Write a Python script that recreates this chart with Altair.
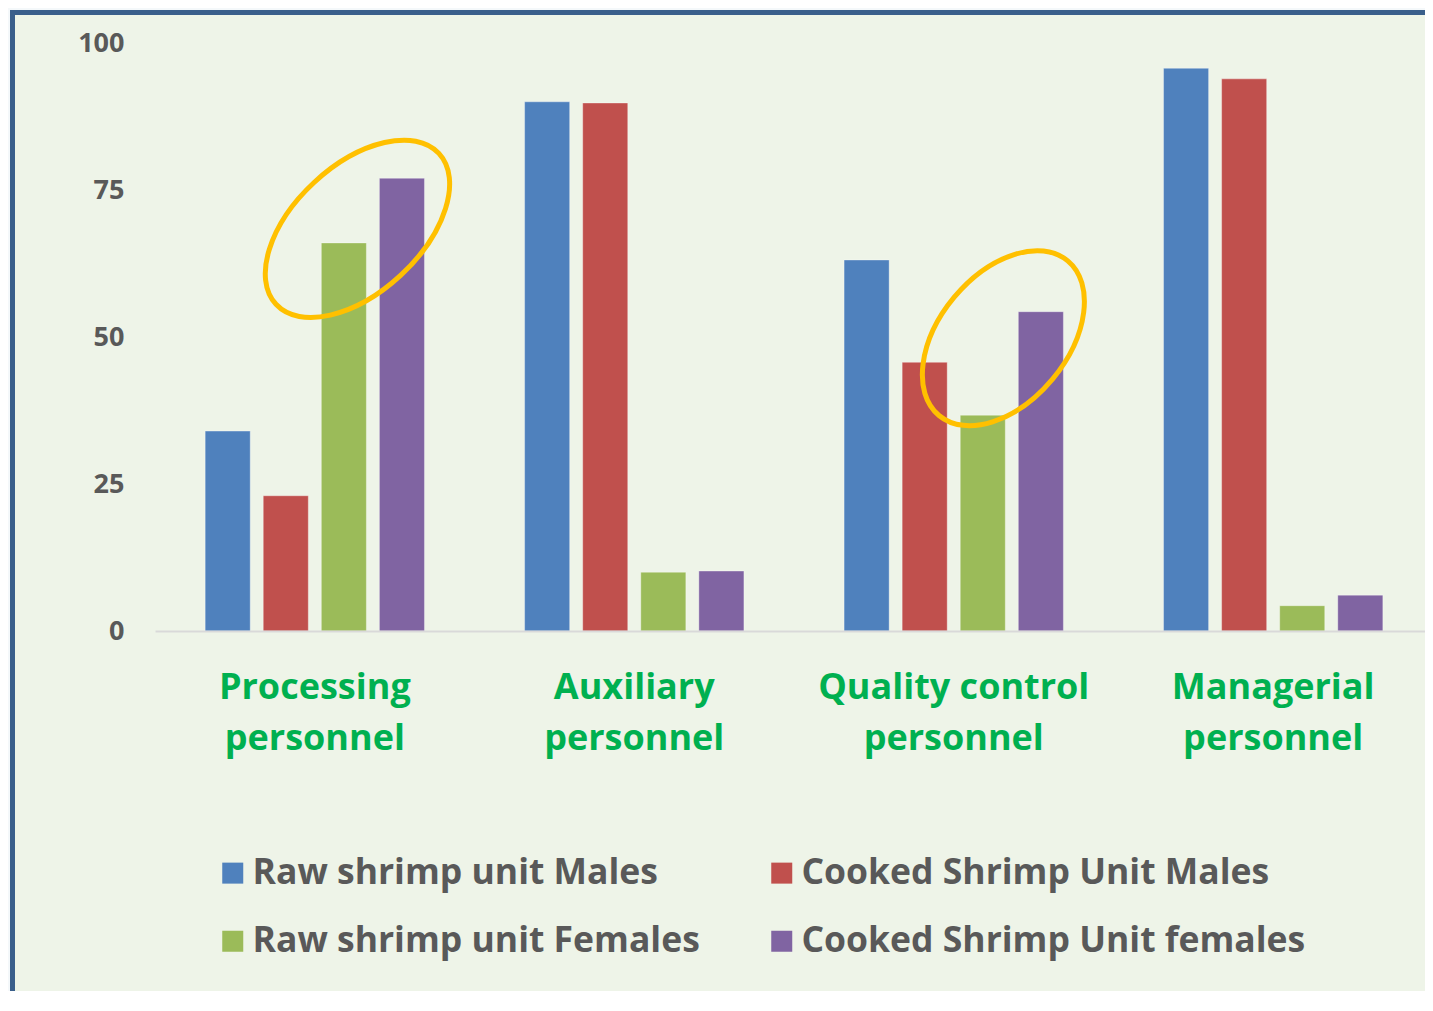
import altair as alt
import pandas as pd

categories = ["Processing personnel", "Auxiliary personnel", "Quality control personnel", "Managerial personnel"]
series = ["Raw shrimp unit Males", "Cooked Shrimp Unit Males", "Raw shrimp unit Females", "Cooked Shrimp Unit females"]
colors = ["#4F81BD", "#C0504D", "#9BBB59", "#8064A2"]

raw_males = [34.0, 90.0, 63.1, 95.7]
cooked_males = [23.0, 89.8, 45.7, 93.9]
raw_females = [66.0, 10.0, 36.7, 4.3]
cooked_females = [77.0, 10.2, 54.3, 6.1]

y_ticks = [0, 25, 50, 75, 100]

rows = []
for s, vals in zip(series, [raw_males, cooked_males, raw_females, cooked_females]):
    for c, v in zip(categories, vals):
        rows.append({"category": c, "series": s, "value": v})
df = pd.DataFrame(rows)

# annotation ellipses (category, level)
ell1 = pd.DataFrame({"category": ["Processing personnel"], "value": [68.4]})
ell2 = pd.DataFrame({"category": ["Quality control personnel"], "value": [49.8]})

FONT = "Open Sans"
GRAY = "#595959"

k = 0.5523

def ellipse_path(r):
    kr = k * r
    return (f"M 1 0 C 1 {kr:.4f} {k} {r:.4f} 0 {r:.4f} "
            f"C {-k} {r:.4f} -1 {kr:.4f} -1 0 "
            f"C -1 {-kr:.4f} {-k} {-r:.4f} 0 {-r:.4f} "
            f"C {k} {-r:.4f} 1 {-kr:.4f} 1 0 Z")

x_enc = alt.X(
    "category:N",
    sort=categories,
    scale=alt.Scale(domain=categories, paddingInner=0.3135, paddingOuter=0.157, range=[0, 1278]),
    axis=alt.Axis(
        title=None,
        labelAngle=0,
        labelFont=FONT,
        labelFontSize=36,
        labelFontWeight="bold",
        labelColor="#00B050",
        labelLineHeight=51,
        labelPadding=39,
        labelLimit=0,
        labelOverlap=False,
        ticks=False,
        domain=True,
        domainColor="#D9D9D9",
        domainWidth=2,
        grid=False,
        zindex=1,
        labelExpr="datum.label == 'Quality control personnel' ? ['Quality control', 'personnel'] : split(datum.label, ' ')",
    ),
)

y_enc = alt.Y(
    "value:Q",
    scale=alt.Scale(domain=[0, 100], nice=False, zero=True),
    axis=alt.Axis(
        title=None,
        values=y_ticks,
        labelFont=FONT,
        labelFontSize=27,
        labelFontWeight="bold",
        labelColor=GRAY,
        labelPadding=31,
        ticks=False,
        domain=False,
        grid=False,
        zindex=1,
    ),
)

frame = alt.Chart(pd.DataFrame({"d": [0]})).mark_rect(
    fill="#EEF4E8", stroke="#3A5F8B", strokeWidth=5
).encode(
    x=alt.value(-142.5), x2=alt.value(1400), y=alt.value(-30.5), y2=alt.value(1000)
)

bars = alt.Chart(df).mark_bar(stroke="white", strokeOpacity=0.35, strokeWidth=1).encode(
    x=x_enc,
    xOffset=alt.XOffset("series:N", sort=series,
                        scale=alt.Scale(domain=series, paddingInner=0.224, paddingOuter=0)),
    y=y_enc,
    color=alt.Color(
        "series:N",
        sort=series,
        scale=alt.Scale(domain=series, range=colors),
        legend=alt.Legend(
            orient="none",
            legendX=60,
            legendY=812,
            columns=2,
            direction="horizontal",
            title=None,
            symbolType="square",
            symbolSize=441,
            symbolStrokeWidth=0,
            symbolOpacity=1,
            labelFont=FONT,
            labelFontSize=35.5,
            labelFontWeight="bold",
            labelColor=GRAY,
            labelOffset=2,
            labelLimit=0,
            columnPadding=64,
            rowPadding=31.5,
        ),
    ),
)

e1 = alt.Chart(ell1).mark_point(
    shape=ellipse_path(0.572), filled=False, stroke="#FFC000", strokeWidth=5,
    opacity=1, angle=317.2, size=49284
).encode(x=alt.X("category:N", sort=categories), xOffset=alt.value(152.3), y="value:Q")

e2 = alt.Chart(ell2).mark_point(
    shape=ellipse_path(0.636), filled=False, stroke="#FFC000", strokeWidth=5,
    opacity=1, angle=309.8, size=40481
).encode(x=alt.X("category:N", sort=categories), xOffset=alt.value(159.3), y="value:Q")

chart = alt.layer(frame, bars, e1, e2).properties(
    width=1270,
    height=588,
    background="#F4F8FA",
    padding={"left": 147, "top": 35, "right": 0, "bottom": 360},
    autosize=alt.AutoSizeParams(type="none"),
).configure_view(strokeWidth=0)

chart.save("out.html", embed_options={"renderer": "svg", "actions": False})
